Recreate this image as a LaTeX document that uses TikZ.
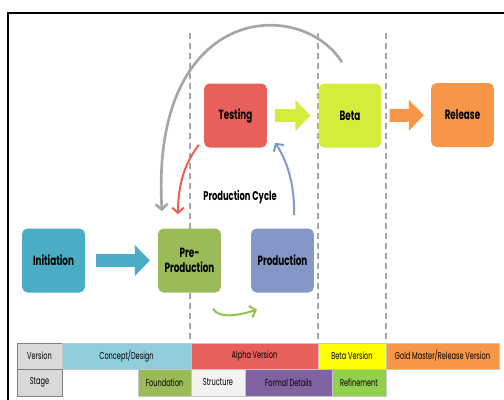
\documentclass[tikz,border=0pt]{standalone}
\usepackage{fontspec}
\setmainfont{Poppins}[FakeStretch = 0.66]
\usetikzlibrary{arrows.meta}

\definecolor{initTeal}{HTML}{4BACC6}
\definecolor{preOlive}{HTML}{9BBB59}
\definecolor{prodBlue}{HTML}{8497C8}
\definecolor{testRed}{HTML}{E8605A}
\definecolor{betaLime}{HTML}{D4EC3B}
\definecolor{releaseOrange}{HTML}{F79646}
\definecolor{conceptBlue}{HTML}{92CDDC}
\definecolor{betaYellow}{HTML}{FFFF00}
\definecolor{headGray}{HTML}{D9D9D9}
\definecolor{structWhite}{HTML}{F2F2F2}
\definecolor{formalPurple}{HTML}{8064A2}
\definecolor{refineGreen}{HTML}{92D050}
\definecolor{cycleBlue}{HTML}{7F9ACB}
\definecolor{cycleGreen}{HTML}{92C050}

\begin{document}
\begin{tikzpicture} [x = 0.75pt, y = -0.75pt,
  stagebox/.style = {rounded corners = 4pt, minimum width = 47pt, minimum height = 48pt, align = center, inner sep = 1pt, font = \bfseries\fontsize{10}{11}\selectfont},
  cell/.style = {draw = gray!45, line width = 0.4pt, minimum height = 19.5pt, inner sep = 0pt, outer sep = 0pt, font = \fontsize{7.5}{8}\selectfont},
  blockarrow/.style = {line width = 9.75pt, -{Triangle[length = 11.25pt, width = 22.5pt]}},
  cyclearrow/.style = {line width = 1.5pt, -{Straight Barb[length = 4pt, width = 9pt]}},
  phase/.style = {gray!70, line width = 0.8pt, dash pattern = on 4.5pt off 3pt}]
\useasboundingbox (0, 0) rectangle (504, 400);
\draw[black, line width = 1.5pt] (8, 400) -- (8, 13) -- (504, 13);
% phase borders
\draw[phase] (190, 33) -- (190, 343);
\draw[phase] (318, 33) -- (318, 343);
\draw[phase] (386, 33) -- (386, 343);
% stages
\node[stagebox, fill = initTeal] (initiation) at (53.5, 260.5){Initiation};
\node[stagebox, fill = preOlive] (preprod) at (189.5, 260.5){Pre-\\Production};
\node[stagebox, fill = prodBlue] (production) at (282.5, 260.5){Production};
\node[stagebox, fill = testRed] (testing) at (235.5, 115.5){Testing};
\node[stagebox, fill = betaLime] (beta) at (350, 115.5){Beta};
\node[stagebox, fill = releaseOrange] (release) at (462.5, 115){Release};
\node[font = \bfseries\fontsize{9.5}{10}\selectfont] (cycle) at (240, 197){Production Cycle};
\draw[blockarrow, initTeal, shorten < = 7.9pt, shorten > = 6pt] (initiation) -- (preprod);
\draw[blockarrow, betaLime, shorten < = 6pt, shorten > = 6pt] (testing) -- (beta);
\draw[blockarrow, releaseOrange, shorten < = 6pt, shorten > = 5.25pt] (beta) -- (release);
\draw[cyclearrow, testRed] ([shift = {(-5, -3)}]testing.south west) .. controls +(-14, 18) and +(0, -30) .. ([shift = {(-11.5, -14)}]preprod.north);
\draw[cyclearrow, cycleBlue] ([shift = {(11.5, -13)}]production.north) .. controls +(1, -30) and +(12, 18) .. ([shift = {(8, -5)}]testing.south east);
\draw[cyclearrow, cycleGreen] ([shift = {(23.5, 16)}]preprod.south) .. controls +(6, 10) and +(-20, 6) .. ([shift = {(-25.5, 17)}]production.south);
\draw[cyclearrow, gray!70, line width = 2pt] ([shift = {(-8, -21)}]beta.north) .. controls (300, -4) and (150, 4) .. ([shift = {(-27.5, -17)}]preprod.north);
% version row
\node[cell, draw = gray, fill = headGray, minimum width = 33.75pt] (version) at (39.5, 356){Version};
\node[cell, fill = conceptBlue, minimum width = 96.75pt] (concept) at (126.5, 356){Concept/Design};
\node[cell, fill = testRed, minimum width = 95.25pt] (alpha) at (254.5, 356){Alpha Version};
\node[cell, fill = betaYellow, minimum width = 51pt] (betaver) at (352, 356){Beta Version};
\node[cell, fill = releaseOrange, minimum width = 84.75pt] (gold) at (442.5, 356){Gold Master/Release Version};
% stage row
\node[cell, draw = gray, fill = headGray, minimum width = 33.75pt, minimum height = 20.25pt] (stage) at (39.5, 382.5){Stage};
\node[cell, fill = preOlive, minimum width = 39.75pt, minimum height = 20.25pt] (foundation) at (164.5, 382.5){Foundation};
\node[cell, fill = structWhite, minimum width = 40.5pt, minimum height = 20.25pt] (structure) at (218, 382.5){Structure};
\node[cell, fill = formalPurple, minimum width = 65.25pt, minimum height = 20.25pt] (formal) at (288.5, 382.5){Formal Details};
\node[cell, fill = refineGreen, minimum width = 40.5pt, minimum height = 20.25pt] (refine) at (359, 382.5){Refinement};
\end{tikzpicture}
\end{document}
